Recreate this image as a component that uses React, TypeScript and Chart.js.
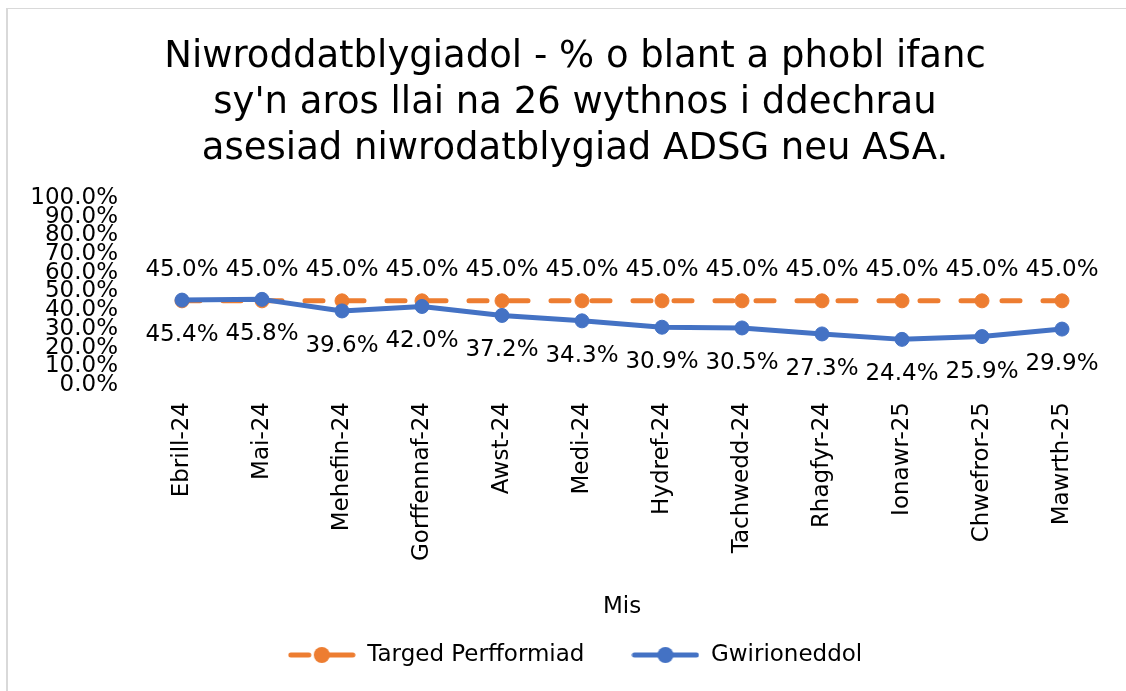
import React, { useEffect, useRef } from 'react';
import { Chart, registerables } from 'chart.js';

Chart.register(...registerables);

const categories = [
  'Ebrill-24', 'Mai-24', 'Mehefin-24', 'Gorffennaf-24', 'Awst-24', 'Medi-24',
  'Hydref-24', 'Tachwedd-24', 'Rhagfyr-24', 'Ionawr-25', 'Chwefror-25', 'Mawrth-25',
];
const targetValues = [45.0, 45.0, 45.0, 45.0, 45.0, 45.0, 45.0, 45.0, 45.0, 45.0, 45.0, 45.0];
const actualValues = [45.4, 45.8, 39.6, 42.0, 37.2, 34.3, 30.9, 30.5, 27.3, 24.4, 25.9, 29.9];
const seriesNames = ['Targed Perfformiad', 'Gwirioneddol'];
const titleLines = [
  'Niwroddatblygiadol - % o blant a phobl ifanc',
  "sy'n aros llai na 26 wythnos i ddechrau",
  'asesiad niwrodatblygiad ADSG neu ASA.',
];
const xAxisTitle = 'Mis';
const yMin = 0;
const yMax = 100;
const yStep = 10;

const ORANGE = '#ED7D31';
const BLUE = '#4472C4';
const TEXT = '#000000';
const FONT = "'DejaVu Sans', Verdana, sans-serif";

const fmt = (v: number) => v.toFixed(1) + '%';

function makeIcon(color: string, dashed: boolean): HTMLCanvasElement {
  const c = document.createElement('canvas');
  c.width = 68;
  c.height = 20;
  const g = c.getContext('2d')!;
  g.strokeStyle = color;
  g.fillStyle = color;
  g.lineWidth = 5;
  g.lineCap = 'round';
  g.beginPath();
  if (dashed) {
    g.moveTo(3, 10);
    g.lineTo(21, 10);
    g.moveTo(40, 10);
    g.lineTo(65, 10);
  } else {
    g.moveTo(3, 10);
    g.lineTo(65, 10);
  }
  g.stroke();
  g.beginPath();
  g.arc(34, 10, 8, 0, Math.PI * 2);
  g.fill();
  return c;
}

const valueLabels = {
  id: 'valueLabels',
  afterDatasetsDraw(chart: any) {
    const ctx = chart.ctx;
    ctx.save();
    ctx.font = `23px ${FONT}`;
    ctx.fillStyle = TEXT;
    ctx.textAlign = 'center';
    ctx.textBaseline = 'middle';
    chart.data.datasets.forEach((ds: any, di: number) => {
      const meta = chart.getDatasetMeta(di);
      meta.data.forEach((pt: any, i: number) => {
        const v = ds.data[i] as number;
        const off = di === 0 ? -31 : 35;
        ctx.fillText(fmt(v), pt.x, pt.y + off);
      });
    });
    ctx.restore();
  },
};

// let the y tick labels extend into the left layout padding (avoid clipping)
const widenYLabelArea = {
  id: 'widenYLabelArea',
  afterLayout(chart: any) {
    const y = chart.scales.y;
    if (y) y.left = 0;
  },
};

export default function App() {
  const ref = useRef<HTMLCanvasElement>(null);

  useEffect(() => {
    if (!ref.current) return;
    const icons = [makeIcon(ORANGE, true), makeIcon(BLUE, false)];
    const colors = [ORANGE, BLUE];
    const chart = new Chart(ref.current, {
      type: 'line',
      data: {
        labels: categories,
        datasets: [
          {
            label: seriesNames[0],
            data: targetValues,
            borderColor: ORANGE,
            backgroundColor: ORANGE,
            borderWidth: 5,
            borderDash: [18, 23],
            borderCapStyle: 'round',
            pointRadius: 7,
            pointBackgroundColor: ORANGE,
            pointBorderColor: ORANGE,
            pointBorderWidth: 1,
            tension: 0,
            order: 1,
          },
          {
            label: seriesNames[1],
            data: actualValues,
            borderColor: BLUE,
            backgroundColor: BLUE,
            borderWidth: 5,
            borderCapStyle: 'round',
            borderJoinStyle: 'round',
            pointRadius: 7,
            pointBackgroundColor: BLUE,
            pointBorderColor: BLUE,
            pointBorderWidth: 1,
            tension: 0,
            order: 0,
          },
        ],
      },
      options: {
        responsive: false,
        animation: false,
        devicePixelRatio: 1,
        layout: { padding: { left: 48, right: 24, top: 0, bottom: 14.5 } },
        plugins: {
          tooltip: { enabled: false },
          title: {
            display: true,
            text: titleLines,
            color: TEXT,
            font: { family: FONT, size: 37, weight: 'normal', lineHeight: '46px' },
            padding: { top: 34, bottom: 26 },
          },
          legend: {
            display: true,
            position: 'bottom',
            labels: {
              usePointStyle: true,
              pointStyleWidth: 68,
              padding: 47,
              color: TEXT,
              font: { family: FONT, size: 23 },
              generateLabels: () =>
                seriesNames.map((name, i) => ({
                  text: name,
                  fillStyle: colors[i],
                  strokeStyle: colors[i],
                  lineWidth: 0,
                  hidden: false,
                  datasetIndex: i,
                  pointStyle: icons[i],
                  fontColor: TEXT,
                })),
            },
          },
        },
        scales: {
          x: {
            offset: true,
            grid: { display: false, drawTicks: false },
            border: { display: false },
            ticks: {
              autoSkip: false,
              minRotation: 90,
              maxRotation: 90,
              padding: 17,
              color: TEXT,
              font: { family: FONT, size: 23 },
            },
            title: {
              display: true,
              text: xAxisTitle,
              color: TEXT,
              font: { family: FONT, size: 23 },
              padding: { top: 0, bottom: -24 },
            },
            afterFit: (s: any) => {
              s.height = 211.5;
            },
          },
          y: {
            min: yMin,
            max: yMax,
            grid: { display: false, drawTicks: false },
            border: { display: false },
            ticks: {
              stepSize: yStep,
              autoSkip: false,
              padding: 24,
              color: TEXT,
              font: { family: FONT, size: 23 },
              callback: (v: any) => fmt(Number(v)),
            },
            afterFit: (s: any) => {
              s.width = 94;
            },
          },
        },
      },
      plugins: [valueLabels, widenYLabelArea],
    } as any);
    return () => chart.destroy();
  }, []);

  return (
    <div style={{ position: 'fixed', left: 0, top: 0, width: 1126, height: 691, background: '#fff' }}>
      <canvas ref={ref} width={1126} height={691} style={{ position: 'absolute', left: 0, top: 0 }} />
      <div
        style={{
          position: 'absolute',
          left: 6,
          top: 8,
          width: 1200,
          height: 800,
          borderLeft: '2px solid #d9d9d9',
          borderTop: '1px solid #d9d9d9',
          pointerEvents: 'none',
        }}
      />
    </div>
  );
}
